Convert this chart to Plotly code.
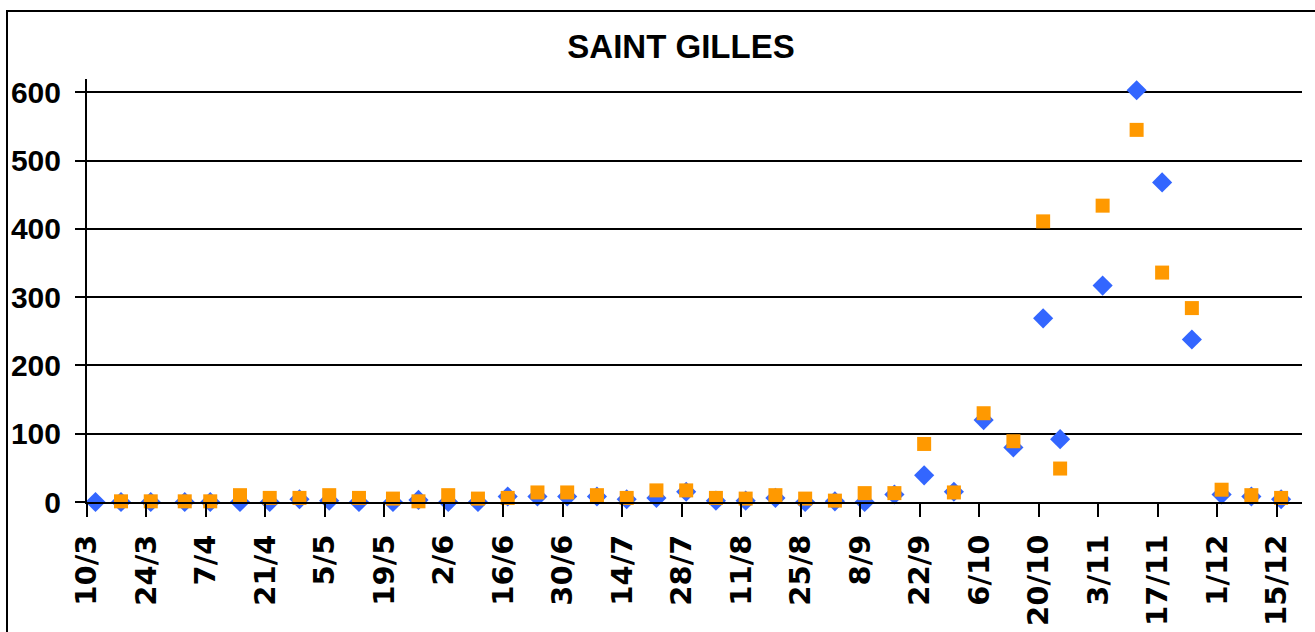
import plotly.graph_objects as go

title_text = "SAINT GILLES"

dates = [
    "2010-03-12", "2010-03-18", "2010-03-25", "2010-04-02", "2010-04-08",
    "2010-04-15", "2010-04-22", "2010-04-29", "2010-05-06", "2010-05-13",
    "2010-05-21", "2010-05-27", "2010-06-03", "2010-06-10", "2010-06-17",
    "2010-06-24", "2010-07-01", "2010-07-08", "2010-07-15", "2010-07-22",
    "2010-07-29", "2010-08-05", "2010-08-12", "2010-08-19", "2010-08-26",
    "2010-09-02", "2010-09-09", "2010-09-16", "2010-09-23", "2010-09-30",
    "2010-10-07", "2010-10-14", "2010-10-21", "2010-10-25", "2010-11-04",
    "2010-11-12", "2010-11-18", "2010-11-25", "2010-12-02", "2010-12-09",
    "2010-12-16",
]

blue_values = [0, 0, 0, 0, 0, 0, 0, 4, 2, 0,
               0, 3, 0, 0, 8, 8, 8, 8, 4, 6,
               15, 2, 2, 6, 0, 1, 0, 11, 39, 15,
               120, 80, 269, 92, 317, 603, 468, 238, 11, 8,
               4]

orange_values = [None, 1, 1, 1, 1, 10, 6, 6, 10, 6,
                 5, 1, 10, 5, 6, 14, 14, 10, 6, 17,
                 17, 6, 5, 10, 5, 2, 13, 13, 85, 14,
                 130, 89, 411, 49, 434, 545, 336, 284, 18, 10,
                 6]

y_ticks = [0, 100, 200, 300, 400, 500, 600]

FONT = "Liberation Sans, Arial, sans-serif"
WIDE = "DejaVu Sans, sans-serif"

fig = go.Figure()
fig.add_trace(go.Scatter(
    x=dates, y=blue_values, mode="markers", name="blue",
    marker=dict(symbol="diamond", size=15.5, color="#3366FF", line=dict(width=0)),
    cliponaxis=False,
))
fig.add_trace(go.Scatter(
    x=dates, y=orange_values, mode="markers", name="orange",
    marker=dict(symbol="square", size=14, color="#FF9900", line=dict(width=0)),
    cliponaxis=False,
))

fig.update_layout(
    width=1315, height=632,
    margin=dict(l=87, r=13, t=79, b=130),
    paper_bgcolor="white", plot_bgcolor="white",
    showlegend=False,
    title=dict(text=title_text, x=681 / 1315, xanchor="center", y=1 - 46 / 632, yanchor="middle",
               font=dict(family=FONT, size=33, color="black", weight="bold")),
    xaxis=dict(
        type="date",
        range=["2010-03-10", "2010-12-20 22:00"],
        tick0="2010-03-10", dtick=14 * 86400000,
        tickformat="%-d/%-m",
        tickangle=-90,
        ticks="outside", ticklen=13, tickwidth=2, tickcolor="black",
        showline=True, linecolor="black", linewidth=2,
        showgrid=False, zeroline=False,
        tickfont=dict(family=WIDE, size=29, color="black", weight="bold"),
        ticklabelstandoff=6,
        automargin=False,
    ),
    yaxis=dict(
        range=[0, 619.5],
        tickvals=y_ticks,
        ticks="outside", ticklen=10, tickwidth=2, tickcolor="black",
        showline=True, linecolor="black", linewidth=2,
        showgrid=True, gridcolor="black", gridwidth=2,
        zeroline=False,
        tickfont=dict(family=FONT, size=30, color="black", weight="bold"),
        ticklabelstandoff=8,
        automargin=False,
    ),
    shapes=[dict(type="rect", xref="paper", yref="paper",
                 x0=(7 - 87) / 1215, x1=1.05, y0=-0.5, y1=(502 - 11) / 423,
                 line=dict(color="black", width=2), fillcolor="rgba(0,0,0,0)", layer="below")],
)

fig.write_html("out.html", config={"displayModeBar": False},
               post_script="document.body.style.margin='0';document.body.style.overflow='hidden';")
